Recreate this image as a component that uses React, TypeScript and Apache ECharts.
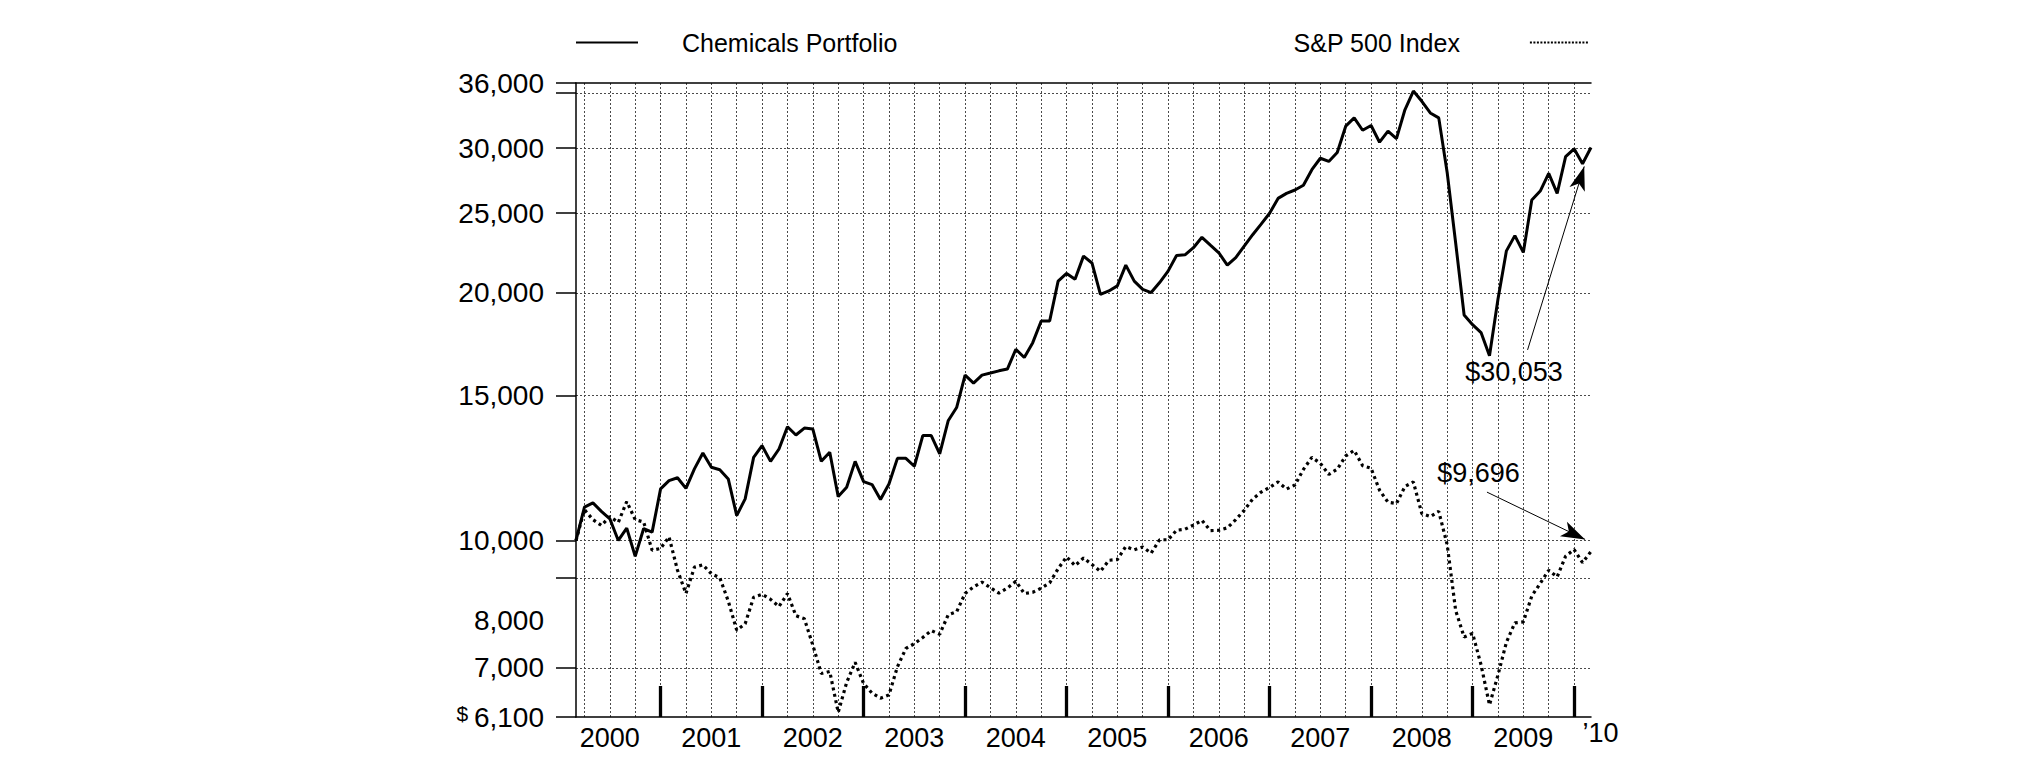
import React, { useEffect, useRef } from 'react';
import * as echarts from 'echarts';

// Month-end values, index 0 = end of Feb 2000 ... index 120 = end of Feb 2010
const chemicals = [
  10000, 10977, 11110, 10850, 10625, 10000, 10352, 9563, 10340, 10237,
  11553, 11825, 11920, 11570, 12220, 12777, 12275, 12190, 11880, 10723,
  11235, 12620, 13040, 12480, 12920, 13750, 13435, 13700, 13660, 12480,
  12800, 11307, 11608, 12480, 11790, 11693, 11213, 11715, 12585, 12585,
  12310, 13415, 13415, 12740, 13980, 14510, 15887, 15535, 15887, 15980,
  16080, 16160, 17080, 16690, 17400, 18490, 18490, 20670, 21120, 20780,
  22170, 21750, 19920, 20110, 20400, 21620, 20670, 20200, 20020, 20590,
  21260, 22210, 22250, 22700, 23370, 22860, 22380, 21620, 22080, 22800,
  23540, 24250, 25000, 26060, 26430, 26680, 27040, 28240, 29160, 28900,
  29630, 31900, 32650, 31540, 31960, 30500, 31460, 30810, 33400, 35200,
  34200, 33100, 32650, 28000, 23000, 18800, 18300, 17900, 16770, 19650,
  22500, 23480, 22400, 25940, 26600, 27950, 26430, 29290, 29940, 28720,
  30053,
];

const sp500 = [
  10000, 10900, 10600, 10430, 10690, 10520, 11150, 10600, 10530, 9730,
  9780, 10100, 9200, 8620, 9280, 9340, 9110, 9010, 8440, 7780,
  7920, 8530, 8600, 8480, 8310, 8620, 8100, 8030, 7460, 6890,
  6930, 6180, 6720, 7110, 6700, 6520, 6430, 6490, 7020, 7390,
  7490, 7620, 7770, 7690, 8120, 8190, 8620, 8780, 8900, 8760,
  8630, 8750, 8920, 8620, 8650, 8750, 8880, 9240, 9550, 9320,
  9520, 9350, 9170, 9460, 9480, 9830, 9740, 9820, 9650, 10020,
  10020, 10290, 10320, 10440, 10580, 10280, 10290, 10360, 10600, 10880,
  11230, 11450, 11600, 11780, 11550, 11680, 12200, 12620, 12410, 12030,
  12210, 12670, 12870, 12330, 12240, 11510, 11130, 11090, 11630, 11780,
  10780, 10690, 10850, 9880, 8220, 7630, 7710, 7060, 6310, 6860,
  7520, 7940, 7960, 8560, 8870, 9200, 9030, 9570, 9750, 9400,
  9696,
];

const seriesNames = ['Chemicals Portfolio', 'S&P 500 Index'];
const yearLabels = ['2000', '2001', '2002', '2003', '2004', '2005', '2006', '2007', '2008', '2009'];
const endLabel = '\u201910';
const yTickValues = [36000, 35000, 30000, 25000, 20000, 15000, 10000, 9000, 7000, 6100];
const yLabelValues = [36000, 30000, 25000, 20000, 15000, 10000, 8000, 7000, 6100];
const endValueLabels = ['$30,053', '$9,696'];

const FONT = "'Liberation Sans', Arial, Helvetica, sans-serif";
const START_OFFSET = 2; // first point is two months into 2000
const LAST = chemicals.length - 1;

const monthPos = (m: number) => m - START_OFFSET;
const yearCenters = yearLabels.map((_, k) => monthPos(k * 12 + 6));
const yearBounds = yearLabels.map((_, k) => monthPos((k + 1) * 12));
const quarterLines: number[] = [];
for (let m = 3; m <= LAST + START_OFFSET; m += 3) quarterLines.push(monthPos(m));

const fmt = (v: number) => Math.round(v).toLocaleString('en-US');

export default function App() {
  const ref = useRef<HTMLDivElement>(null);
  useEffect(() => {
    if (!ref.current) return;
    const chart = echarts.init(ref.current, null, { renderer: 'svg' });
    const gridLine = { color: '#4a4a4a', width: 1, type: [2, 2] as number[] };
    const legendText = { fontSize: 25, color: '#000', fontFamily: FONT };
    chart.setOption({
      animation: false,
      backgroundColor: '#fff',
      textStyle: { fontFamily: FONT, color: '#000' },
      grid: { left: 576, right: 434, top: 83, bottom: 44, containLabel: false },
      legend: [
        {
          data: [{ name: seriesNames[0], lineStyle: { width: 2, type: 'solid', color: '#000' } }],
          left: 575,
          top: 30,
          padding: 0,
          itemWidth: 62,
          itemHeight: 26,
          selectedMode: false,
          itemStyle: { opacity: 0 },
          textStyle: { ...legendText, padding: [0, 0, 0, 39] },
        },
        {
          data: [{ name: seriesNames[1], lineStyle: { width: 2.2, type: [2, 1.5], color: '#000' } }],
          right: 436,
          top: 30,
          padding: 0,
          align: 'right',
          itemWidth: 58,
          itemHeight: 26,
          selectedMode: false,
          itemStyle: { opacity: 0 },
          textStyle: { ...legendText, padding: [0, 65, 0, 0] },
        },
      ],
      xAxis: [
        {
          type: 'value',
          min: 0,
          max: LAST,
          position: 'bottom',
          axisLine: { show: true, onZero: false, lineStyle: { color: '#000', width: 1.5 } },
          axisTick: {
            show: true,
            inside: true,
            length: 31,
            customValues: yearBounds.filter((v) => v <= LAST),
            lineStyle: { color: '#000', width: 3.3 },
          },
          axisLabel: {
            customValues: [...yearCenters, LAST],
            margin: 7,
            fontSize: 27,
            color: '#000',
            fontFamily: FONT,
            formatter: (v: number) => {
              if (Math.abs(v - LAST) < 0.01) return '{t|' + endLabel + '}';
              const k = Math.round((v - yearCenters[0]) / 12);
              return yearLabels[k] ?? '';
            },
            rich: { t: { fontSize: 27, lineHeight: 17, padding: [0, 0, 0, 19], fontFamily: FONT, color: '#000' } },
          },
          splitLine: { show: false },
        },
        {
          type: 'value',
          min: 0,
          max: LAST,
          position: 'top',
          axisLine: { show: true, onZero: false, lineStyle: { color: '#000', width: 1.5 } },
          axisTick: { show: false, customValues: quarterLines },
          axisLabel: { show: false },
          splitLine: { show: true, lineStyle: gridLine },
        },
      ],
      yAxis: {
        type: 'log',
        logBase: 10,
        min: 6100,
        max: 36000,
        axisLine: { show: true, onZero: false, lineStyle: { color: '#000', width: 1.5 } },
        axisTick: {
          show: true,
          inside: false,
          length: 20,
          customValues: yTickValues,
          lineStyle: { color: '#000', width: 1.5 },
        },
        axisLabel: {
          customValues: yLabelValues,
          margin: 32,
          fontSize: 28,
          color: '#000',
          fontFamily: FONT,
          formatter: (v: number) => {
            const r = Math.round(v);
            if (r === 6100) return '{d|$ }{n|' + fmt(r) + '}';
            return fmt(r);
          },
          rich: {
            d: { fontSize: 21, verticalAlign: 'top', fontFamily: FONT, color: '#000' },
            n: { fontSize: 28, fontFamily: FONT, color: '#000' },
          },
        },
        splitLine: { show: true, showMinLine: false, showMaxLine: false, lineStyle: gridLine },
      },
      series: [
        {
          name: seriesNames[0],
          type: 'line',
          xAxisIndex: 0,
          data: chemicals.map((v, i) => [i, v]),
          symbol: 'none',
          showSymbol: false,
          lineStyle: { color: '#000', width: 3 },
          itemStyle: { color: '#000' },
          markLine: {
            silent: true,
            symbol: ['none', 'arrow'],
            lineStyle: { color: '#000', width: 1, type: 'solid' },
            label: { show: false },
            data: [
              [
                { coord: [112.5, 17050], symbol: 'none' },
                { coord: [119.2, 28500], symbol: 'arrow', symbolSize: [12, 24] },
              ],
            ],
          },
          markPoint: {
            silent: true,
            symbol: 'rect',
            symbolSize: 1,
            itemStyle: { color: 'rgba(0,0,0,0)' },
            label: { show: true, position: 'inside', formatter: (p: any) => p.name, fontSize: 27, color: '#000', fontFamily: FONT },
            data: [{ name: endValueLabels[0], coord: [110.9, 16030] }],
          },
        },
        {
          name: seriesNames[1],
          type: 'line',
          xAxisIndex: 0,
          data: sp500.map((v, i) => [i, v]),
          symbol: 'none',
          showSymbol: false,
          lineStyle: { color: '#000', width: 3.2, type: [3, 3.5] },
          itemStyle: { color: '#000' },
          markLine: {
            silent: true,
            symbol: ['none', 'arrow'],
            lineStyle: { color: '#000', width: 1, type: 'solid' },
            label: { show: false },
            data: [
              [
                { coord: [107.7, 11450], symbol: 'none' },
                { coord: [119.3, 10030], symbol: 'arrow', symbolSize: [12, 24] },
              ],
            ],
          },
          markPoint: {
            silent: true,
            symbol: 'rect',
            symbolSize: 1,
            itemStyle: { color: 'rgba(0,0,0,0)' },
            label: { show: true, position: 'inside', formatter: (p: any) => p.name, fontSize: 27, color: '#000', fontFamily: FONT },
            data: [{ name: endValueLabels[1], coord: [106.7, 12070] }],
          },
        },
      ],
    });
    return () => chart.dispose();
  }, []);
  return (
    <div
      ref={ref}
      style={{ position: 'fixed', left: 0, top: 0, width: 2025, height: 761, background: '#fff' }}
    />
  );
}
